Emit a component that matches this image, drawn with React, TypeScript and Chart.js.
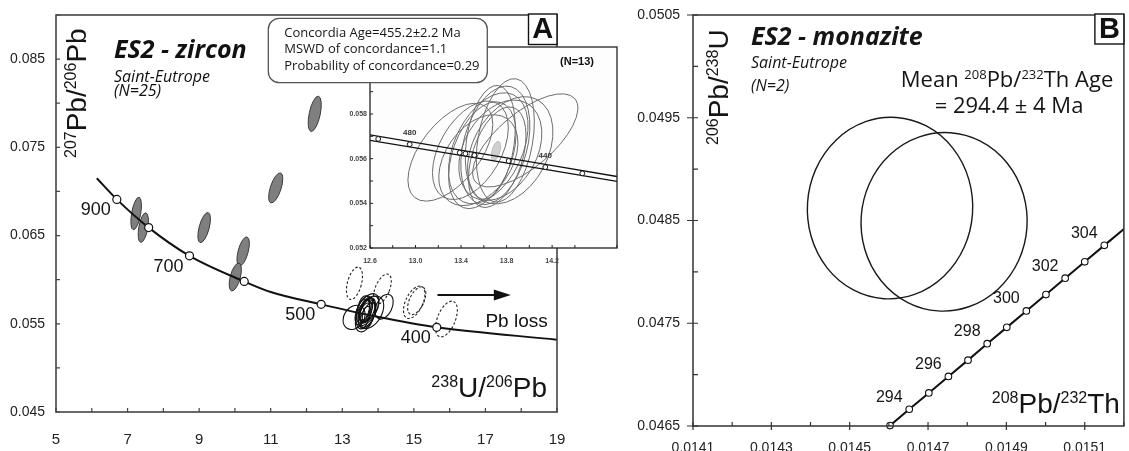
import React, { useEffect, useRef } from "react";
import { Chart, registerables } from "chart.js";

Chart.register(...registerables);

// ================= Panel A : zircon (Tera-Wasserburg) =================
const concordiaAX = [6.14, 6.70, 7.59, 8.73, 10.26, 11.0, 12.41, 13.98, 15.64, 19.0];
const concordiaAY = [0.0715, 0.0691, 0.0659, 0.0627, 0.0598, 0.0586, 0.0572, 0.0558, 0.0546, 0.0532];
const ageMarkA = ["900", "800", "700", "600", "500", "400"];
const ageMarkAX = [6.70, 7.59, 8.73, 10.26, 12.41, 15.64];
const ageMarkAY = [0.0691, 0.0659, 0.0627, 0.0598, 0.0572, 0.0546];
const ageLabelA = ["900", "700", "500", "400"];

// [x, y, semi-axis (x units), semi-axis (y units), tilt deg]
const discordantA = [
  [7.24, 0.0675, 0.126, 0.00187, 10],
  [7.44, 0.0659, 0.126, 0.0017, 10],
  [9.14, 0.0659, 0.14, 0.00176, 15],
  [10.23, 0.0632, 0.14, 0.0017, 15],
  [10.01, 0.0603, 0.14, 0.00163, 15],
  [11.14, 0.0704, 0.15, 0.00178, 18],
  [12.23, 0.0788, 0.154, 0.00204, 12],
];
const pbLossEllipsesA = [
  [13.34, 0.05959, 0.196, 0.00189, 15],
  [14.12, 0.05894, 0.2, 0.00181, 22],
  [15.01, 0.05744, 0.24, 0.00198, 25],
  [15.08, 0.05762, 0.2, 0.0017, 25],
  [15.91, 0.05554, 0.25, 0.00215, 22],
];
const concordantA = [
  [13.62, 0.0566, 0.2, 0.0016, 20],
  [13.68, 0.0562, 0.22, 0.0018, 15],
  [13.7, 0.0565, 0.18, 0.0015, 25],
  [13.58, 0.0561, 0.19, 0.0017, 10],
  [13.75, 0.0567, 0.21, 0.0016, 30],
  [13.64, 0.0559, 0.24, 0.0019, 20],
  [13.66, 0.0564, 0.15, 0.0013, 15],
  [13.72, 0.056, 0.17, 0.0015, 25],
  [13.6, 0.0568, 0.16, 0.0014, 10],
  [13.69, 0.0566, 0.26, 0.002, 30],
  [13.63, 0.0563, 0.12, 0.0011, 20],
  [13.67, 0.0561, 0.1, 0.0009, 15],
  [13.33, 0.05573, 0.28, 0.00147, 35],
  [14.17, 0.05694, 0.22, 0.0015, 25],
  [13.8, 0.0563, 0.3, 0.002, 30],
];
const pbLossArrowFrom = [15.66, 0.05826];
const pbLossArrowTo = [17.71, 0.05826];
const pbLossLabelAt = [17.0, 0.05464];

// ================= Inset (N=13) =================
const bandX = [12.6, 14.18, 14.77];
const bandUpperY = [0.05707, 0.05571, 0.0552];
const bandLowerY = [0.05682, 0.05549, 0.05498];
const bandMarkX = [12.672, 12.949, 13.388, 13.438, 13.517, 13.818, 14.14, 14.465];
const bandMarkY = [0.056883, 0.056645, 0.056267, 0.056224, 0.056156, 0.055898, 0.055621, 0.055341];
const bandLabels = [["480", 1], ["440", 6]];
const insetEllipses = [
  [13.306, 0.056288, 0.26, 0.00258, 38],
  [13.639, 0.056465, 0.3, 0.00265, 25],
  [13.701, 0.056597, 0.28, 0.00272, 15],
  [13.745, 0.056376, 0.32, 0.00242, 30],
  [13.587, 0.056155, 0.26, 0.0025, 20],
  [13.789, 0.056818, 0.24, 0.0028, 10],
  [13.552, 0.055934, 0.29, 0.00226, 35],
  [13.718, 0.056066, 0.22, 0.00234, 18],
  [13.832, 0.056376, 0.33, 0.00257, 28],
  [13.657, 0.05673, 0.21, 0.00257, 8],
  [13.482, 0.056376, 0.27, 0.00242, 30],
  [13.964, 0.056818, 0.24, 0.0029, 50],
];
const insetAgeEllipse = [[13.707, 0.056345, 0.035, 0.000442, 15]];
const concordiaBoxLines = [
  "Concordia Age=455.2\u00b12.2 Ma",
  "MSWD of concordance=1.1",
  "Probability of concordance=0.29",
];

// ================= Panel B : monazite =================
const monaziteAges = [293, 294, 295, 296, 297, 298, 299, 300, 301, 302, 303, 304];
const monaziteX = [0.014603, 0.014652, 0.014702, 0.014752, 0.014802, 0.014851, 0.014901, 0.014951, 0.015001, 0.01505, 0.0151, 0.01515];
const monaziteY = [0.046504, 0.046663, 0.046822, 0.046982, 0.047141, 0.047301, 0.04746, 0.04762, 0.047779, 0.047939, 0.048098, 0.048258];
const monaziteLineEndX = 0.0152;
const monaziteLineEndY = 0.048418;
const monaziteLabelAges = [294, 296, 298, 300, 302, 304];
const monaziteEllipses = [
  [0.014603, 0.048621, 0.000211, 0.000884, 4],
  [0.014741, 0.048487, 0.000212, 0.000869, 4],
];

const INK = "#151515";
const ARIAL = '"Liberation Sans", Arial, sans-serif';
const MYRIAD = '"Open Sans", sans-serif';

type Seg = [string, number];

function rich(ctx: any, segs: Seg[], x: number, y: number, o: any) {
  const font = (sup: number) =>
    `${o.style || ""} ${o.weight || ""} ${sup ? o.sup : o.size}px ${o.family || ARIAL}`.trim();
  let w = 0;
  const ws = segs.map(([t, s]) => {
    ctx.font = font(s);
    const m = ctx.measureText(t).width;
    w += m;
    return m;
  });
  ctx.save();
  ctx.translate(x, y);
  if (o.rotate) ctx.rotate(-Math.PI / 2);
  ctx.fillStyle = o.color || INK;
  ctx.textAlign = "left";
  ctx.textBaseline = "alphabetic";
  let cx = o.align === "right" ? -w : o.align === "center" ? -w / 2 : 0;
  segs.forEach(([t, s], i) => {
    ctx.font = font(s);
    ctx.fillText(t, cx, s ? -o.raise : 0);
    cx += ws[i];
  });
  ctx.restore();
}

function drawEllipses(chart: any, list: number[][], st: any) {
  const { ctx, scales, chartArea: ca } = chart;
  const xs = scales.x;
  const ys = scales.y;
  ctx.save();
  ctx.beginPath();
  ctx.rect(ca.left, ca.top, ca.right - ca.left, ca.bottom - ca.top);
  ctx.clip();
  ctx.setLineDash(st.dash || []);
  for (const [cx, cy, a, b, rot] of list) {
    const px = xs.getPixelForValue(cx);
    const py = ys.getPixelForValue(cy);
    const rx = Math.abs(xs.getPixelForValue(cx + a) - px);
    const ry = Math.abs(ys.getPixelForValue(cy + b) - py);
    ctx.beginPath();
    ctx.ellipse(px, py, rx, ry, (rot * Math.PI) / 180, 0, Math.PI * 2);
    if (st.fill) {
      ctx.fillStyle = st.fill;
      ctx.fill();
    }
    ctx.lineWidth = st.lw;
    ctx.strokeStyle = st.stroke;
    ctx.stroke();
  }
  ctx.restore();
}

function drawFrame(chart: any, o: any) {
  const { ctx, chartArea: ca, scales } = chart;
  const xs = scales.x;
  const ys = scales.y;
  ctx.save();
  ctx.setLineDash([]);
  ctx.strokeStyle = o.color;
  ctx.lineWidth = o.lw;
  ctx.strokeRect(ca.left, ca.top, ca.right - ca.left, ca.bottom - ca.top);
  ctx.lineWidth = o.tickLw;
  ctx.beginPath();
  for (const t of xs.ticks) {
    const p = xs.getPixelForValue(t.value);
    if (p < ca.left - 0.5 || p > ca.right + 0.5) continue;
    const maj = o.majorX(t.value);
    ctx.moveTo(p, ca.bottom + (maj ? o.xOut : 0));
    ctx.lineTo(p, ca.bottom - o.xIn);
  }
  for (const t of ys.ticks) {
    const p = ys.getPixelForValue(t.value);
    if (p < ca.top - 0.5 || p > ca.bottom + 0.5) continue;
    const maj = o.majorY(t.value);
    ctx.moveTo(ca.left - (maj ? o.yOut : 0), p);
    ctx.lineTo(ca.left + o.yIn, p);
  }
  ctx.stroke();
  ctx.restore();
}

function letterBox(ctx: any, ch: string, x: number, y: number, w: number, h: number) {
  ctx.save();
  ctx.fillStyle = "#fff";
  ctx.fillRect(x, y, w, h);
  ctx.strokeStyle = "#111";
  ctx.lineWidth = 1.4;
  ctx.strokeRect(x, y, w, h);
  ctx.fillStyle = "#111";
  ctx.font = `bold 29px ${ARIAL}`;
  ctx.textAlign = "center";
  ctx.textBaseline = "middle";
  ctx.fillText(ch, x + w / 2, y + h / 2 + 1);
  ctx.restore();
}

const baseOpts = {
  responsive: false,
  animation: false as const,
  devicePixelRatio: 1,
  events: [] as any[],
  plugins: { legend: { display: false }, tooltip: { enabled: false } },
};

const noGrid = { display: false, drawTicks: false };
const pts = (xs: number[], ys: number[]) => xs.map((x, i) => ({ x, y: ys[i] }));
const fixX = (h: number) => (s: any) => {
  s.height = h;
  s.paddingLeft = 0;
  s.paddingRight = 0;
};
const fixY = (w: number) => (s: any) => {
  s.width = w;
  s.paddingTop = 0;
  s.paddingBottom = 0;
};

function makeA(canvas: HTMLCanvasElement) {
  const isOddInt = (v: number) => Math.abs(Math.round(v)) % 2 === 1;
  const isY5 = (v: number) => Math.round(v * 1000) % 10 === 5;
  const plugin = {
    id: "panelA",
    beforeDatasetsDraw(chart: any) {
      drawEllipses(chart, discordantA, { fill: "#7f7f7f", stroke: "#3a3a3a", lw: 1 });
      drawEllipses(chart, pbLossEllipsesA, { stroke: "#222", lw: 1.1, dash: [2.5, 2] });
      drawEllipses(chart, concordantA, { stroke: "#111", lw: 1.1 });
    },
    afterDraw(chart: any) {
      const { ctx, chartArea: ca, scales } = chart;
      const x = scales.x;
      const y = scales.y;
      drawFrame(chart, {
        color: "#444", lw: 1.6, tickLw: 1.2, xIn: 4, yIn: 4, xOut: 0, yOut: 0,
        majorX: isOddInt, majorY: isY5,
      });
      ctx.save();
      ctx.font = `18px ${ARIAL}`;
      ctx.fillStyle = INK;
      ctx.textAlign = "center";
      ctx.textBaseline = "middle";
      ageLabelA.forEach((lbl) => {
        const i = ageMarkA.indexOf(lbl);
        ctx.fillText(lbl, x.getPixelForValue(ageMarkAX[i]) - 21, y.getPixelForValue(ageMarkAY[i]) + 11);
      });
      const x0 = x.getPixelForValue(pbLossArrowFrom[0]);
      const y0 = y.getPixelForValue(pbLossArrowFrom[1]);
      const x1 = x.getPixelForValue(pbLossArrowTo[0]);
      const y1 = y.getPixelForValue(pbLossArrowTo[1]);
      ctx.strokeStyle = "#111";
      ctx.fillStyle = "#111";
      ctx.lineWidth = 2;
      ctx.beginPath();
      ctx.moveTo(x0, y0);
      ctx.lineTo(x1 - 14, y1);
      ctx.stroke();
      ctx.beginPath();
      ctx.moveTo(x1, y1);
      ctx.lineTo(x1 - 17, y1 - 5.5);
      ctx.lineTo(x1 - 17, y1 + 5.5);
      ctx.closePath();
      ctx.fill();
      ctx.font = `19px ${ARIAL}`;
      ctx.textAlign = "left";
      ctx.textBaseline = "alphabetic";
      ctx.fillText("Pb loss", x.getPixelForValue(pbLossLabelAt[0]), y.getPixelForValue(pbLossLabelAt[1]));
      ctx.font = `italic bold 25px ${MYRIAD}`;
      ctx.fillText("ES2 - zircon", ca.left + 58, ca.top + 43);
      ctx.font = `italic 16px ${MYRIAD}`;
      ctx.fillText("Saint-Eutrope", ca.left + 58, ca.top + 67);
      ctx.fillText("(N=25)", ca.left + 58, ca.top + 81);
      ctx.restore();
      rich(ctx, [["207", 1], ["Pb/", 0], ["206", 1], ["Pb", 0]], ca.left + 30, ca.top + 143, {
        size: 28, sup: 16, raise: 10, rotate: true,
      });
      rich(ctx, [["238", 1], ["U/", 0], ["206", 1], ["Pb", 0]], ca.right - 10, ca.bottom - 15, {
        size: 28, sup: 16, raise: 10, align: "right",
      });
      letterBox(ctx, "A", ca.right - 28.5, ca.top - 1, 28.5, 30.5);
    },
  };
  return new Chart(canvas, {
    type: "line",
    data: {
      datasets: [
        {
          data: pts(ageMarkAX, ageMarkAY),
          showLine: false,
          pointRadius: 4,
          pointBackgroundColor: "#fff",
          pointBorderColor: "#111",
          pointBorderWidth: 1.2,
          order: 0,
        },
        {
          data: pts(concordiaAX, concordiaAY),
          borderColor: "#111",
          borderWidth: 2,
          pointRadius: 0,
          cubicInterpolationMode: "monotone",
          fill: false,
          order: 1,
        },
      ],
    },
    options: {
      ...baseOpts,
      layout: { padding: { left: 0, top: 15, right: 43, bottom: 0 } },
      scales: {
        x: {
          type: "linear", min: 5, max: 19,
          afterFit: fixX(39),
          grid: noGrid, border: { display: false },
          ticks: {
            stepSize: 1, autoSkip: false, maxRotation: 0, padding: 19, color: "#222",
            font: { family: ARIAL, size: 15 },
            callback: (v: any) => (isOddInt(v) ? String(Math.round(v)) : ""),
          },
        },
        y: {
          type: "linear", min: 0.045, max: 0.09,
          afterFit: fixY(56),
          grid: noGrid, border: { display: false },
          ticks: {
            stepSize: 0.005, autoSkip: false, padding: 11, color: "#222",
            font: { family: ARIAL, size: 14 },
            callback: (v: any) => (isY5(v) ? Number(v).toFixed(3) : ""),
          },
        },
      },
    } as any,
    plugins: [plugin],
  });
}

function makeInset(canvas: HTMLCanvasElement) {
  const isX4 = (v: number) => Math.round((v - 12.6) * 10) % 4 === 0;
  const isYEven = (v: number) => Math.round(v * 1000) % 2 === 0;
  const plugin = {
    id: "inset",
    beforeDraw(chart: any) {
      const { ctx, chartArea: ca } = chart;
      ctx.save();
      ctx.fillStyle = "#fdfdfd";
      ctx.fillRect(ca.left, ca.top, ca.right - ca.left, ca.bottom - ca.top);
      ctx.restore();
    },
    beforeDatasetsDraw(chart: any) {
      drawEllipses(chart, insetEllipses, { stroke: "#6e6e6e", lw: 1 });
      drawEllipses(chart, insetAgeEllipse, { fill: "#cfcfcf", stroke: "#bdbdbd", lw: 1 });
    },
    afterDraw(chart: any) {
      const { ctx, chartArea: ca, scales } = chart;
      const x = scales.x;
      const y = scales.y;
      drawFrame(chart, {
        color: "#222", lw: 1.3, tickLw: 1, xIn: 3, yIn: 3, xOut: 0, yOut: 0,
        majorX: isX4, majorY: isYEven,
      });
      ctx.save();
      ctx.fillStyle = "#333";
      ctx.font = `bold 8px ${ARIAL}`;
      ctx.textAlign = "center";
      ctx.textBaseline = "middle";
      bandLabels.forEach(([lbl, i]: any) => {
        ctx.fillText(lbl, x.getPixelForValue(bandMarkX[i]), y.getPixelForValue(bandMarkY[i]) - 11);
      });
      ctx.fillStyle = "#111";
      ctx.font = `bold 11px ${ARIAL}`;
      ctx.textBaseline = "alphabetic";
      ctx.fillText("(N=13)", ca.right - 40, ca.top + 18);
      const bx = ca.left - 101.7;
      const by = ca.top - 28.7;
      const bw = 219;
      const bh = 64.4;
      ctx.beginPath();
      (ctx as any).roundRect(bx, by, bw, bh, 11);
      ctx.fillStyle = "#fff";
      ctx.fill();
      ctx.strokeStyle = "#555";
      ctx.lineWidth = 1.3;
      ctx.stroke();
      ctx.fillStyle = INK;
      ctx.font = `13px ${MYRIAD}`;
      ctx.textAlign = "left";
      concordiaBoxLines.forEach((t, i) => ctx.fillText(t, bx + 16, by + 18.4 + i * 16.7));
      ctx.restore();
    },
  };
  return new Chart(canvas, {
    type: "line",
    data: {
      datasets: [
        {
          data: pts(bandMarkX, bandMarkY),
          showLine: false,
          pointRadius: 2.4,
          pointBackgroundColor: "#fff",
          pointBorderColor: "#111",
          pointBorderWidth: 1,
          order: 0,
        },
        { data: pts(bandX, bandUpperY), borderColor: "#111", borderWidth: 1.3, pointRadius: 0, order: 1 },
        { data: pts(bandX, bandLowerY), borderColor: "#111", borderWidth: 1.3, pointRadius: 0, order: 1 },
      ],
    },
    options: {
      ...baseOpts,
      layout: { padding: { left: 0, top: 47, right: 13, bottom: 0 } },
      scales: {
        x: {
          type: "linear", min: 12.6, max: 14.77,
          afterFit: fixX(32),
          grid: noGrid, border: { display: false },
          ticks: {
            stepSize: 0.2, autoSkip: false, maxRotation: 0, padding: 9, color: "#444",
            font: { family: ARIAL, size: 7, weight: "bold" },
            callback: (v: any) => (isX4(v) ? Number(v).toFixed(1) : ""),
          },
        },
        y: {
          type: "linear", min: 0.052, max: 0.061,
          afterFit: fixY(110),
          grid: noGrid, border: { display: false },
          ticks: {
            stepSize: 0.001, autoSkip: false, padding: 3, color: "#444",
            font: { family: ARIAL, size: 7, weight: "bold" },
            callback: (v: any) => (isYEven(v) ? Number(v).toFixed(3) : ""),
          },
        },
      },
    } as any,
    plugins: [plugin],
  });
}

function makeB(canvas: HTMLCanvasElement) {
  const isXOdd = (v: number) => Math.round(v * 10000) % 2 === 1;
  const isY5 = (v: number) => Math.round(v * 10000) % 10 === 5;
  const plugin = {
    id: "panelB",
    beforeDatasetsDraw(chart: any) {
      drawEllipses(chart, monaziteEllipses, { stroke: "#1a1a1a", lw: 1.4 });
    },
    afterDraw(chart: any) {
      const { ctx, chartArea: ca, scales } = chart;
      const x = scales.x;
      const y = scales.y;
      drawFrame(chart, {
        color: "#333", lw: 1.5, tickLw: 1.2, xIn: 4, yIn: 5, xOut: 4, yOut: 6,
        majorX: isXOdd, majorY: isY5,
      });
      ctx.save();
      ctx.fillStyle = INK;
      ctx.font = `16px ${ARIAL}`;
      ctx.textAlign = "center";
      ctx.textBaseline = "middle";
      monaziteLabelAges.forEach((age) => {
        const i = monaziteAges.indexOf(age);
        ctx.fillText(String(age), x.getPixelForValue(monaziteX[i]) - 20, y.getPixelForValue(monaziteY[i]) - 12);
      });
      ctx.textAlign = "left";
      ctx.textBaseline = "alphabetic";
      ctx.font = `italic bold 25px ${MYRIAD}`;
      ctx.fillText("ES2 - monazite", ca.left + 58, ca.top + 30);
      ctx.font = `italic 16px ${MYRIAD}`;
      ctx.fillText("Saint-Eutrope", ca.left + 58, ca.top + 53.4);
      ctx.fillText("(N=2)", ca.left + 58, ca.top + 75.7);
      ctx.restore();
      rich(ctx, [["Mean ", 0], ["208", 1], ["Pb/", 0], ["232", 1], ["Th Age", 0]], ca.left + 314, ca.top + 72.4, {
        size: 22, sup: 13, raise: 8, family: MYRIAD, align: "center",
      });
      rich(ctx, [["= 294.4 \u00b1 4 Ma", 0]], ca.left + 316, ca.top + 98.4, {
        size: 22, sup: 13, raise: 8, family: MYRIAD, align: "center",
      });
      rich(ctx, [["206", 1], ["Pb/", 0], ["238", 1], ["U", 0]], ca.left + 35, ca.top + 130, {
        size: 28, sup: 16, raise: 10, rotate: true,
      });
      rich(ctx, [["208", 1], ["Pb/", 0], ["232", 1], ["Th", 0]], ca.right - 4, ca.bottom - 13.5, {
        size: 28, sup: 16, raise: 10, align: "right",
      });
      letterBox(ctx, "B", ca.right - 29, ca.top - 1, 29, 30);
    },
  };
  return new Chart(canvas, {
    type: "line",
    data: {
      datasets: [
        {
          data: pts(monaziteX, monaziteY),
          showLine: false,
          pointRadius: 3.3,
          pointBackgroundColor: "#fff",
          pointBorderColor: "#111",
          pointBorderWidth: 1.1,
          clip: false,
          order: 0,
        },
        {
          data: pts([...monaziteX, monaziteLineEndX], [...monaziteY, monaziteLineEndY]),
          borderColor: "#111",
          borderWidth: 2,
          pointRadius: 0,
          order: 1,
        },
      ],
    },
    options: {
      ...baseOpts,
      layout: { padding: { left: 0, top: 15, right: 2, bottom: 0 } },
      scales: {
        x: {
          type: "linear", min: 0.0141, max: 0.0152,
          afterFit: fixX(25),
          grid: noGrid, border: { display: false },
          ticks: {
            stepSize: 0.0001, autoSkip: false, maxRotation: 0, padding: 13.5, color: "#222",
            font: { family: ARIAL, size: 14 },
            callback: (v: any) => (isXOdd(v) ? Number(v).toFixed(4) : ""),
          },
        },
        y: {
          type: "linear", min: 0.0465, max: 0.0505,
          afterFit: fixY(93),
          grid: noGrid, border: { display: false },
          ticks: {
            stepSize: 0.0005, autoSkip: false, padding: 13, color: "#222",
            font: { family: ARIAL, size: 14 },
            callback: (v: any) => (isY5(v) ? Number(v).toFixed(4) : ""),
          },
        },
      },
    } as any,
    plugins: [plugin],
  });
}

export default function App() {
  const aRef = useRef<HTMLCanvasElement>(null);
  const iRef = useRef<HTMLCanvasElement>(null);
  const bRef = useRef<HTMLCanvasElement>(null);
  useEffect(() => {
    const charts = [makeA(aRef.current!), makeB(bRef.current!), makeInset(iRef.current!)];
    return () => charts.forEach((c) => c.destroy());
  }, []);
  return (
    <div
      style={{
        position: "absolute", left: 0, top: 0, width: 1129, height: 451,
        background: "#fff", overflow: "hidden",
      }}
    >
      <canvas ref={aRef} width={600} height={451} style={{ position: "absolute", left: 0, top: 0, zIndex: 1 }} />
      <canvas ref={bRef} width={529} height={451} style={{ position: "absolute", left: 600, top: 0, zIndex: 1 }} />
      <canvas ref={iRef} width={370} height={280} style={{ position: "absolute", left: 260, top: 0, zIndex: 2 }} />
    </div>
  );
}
